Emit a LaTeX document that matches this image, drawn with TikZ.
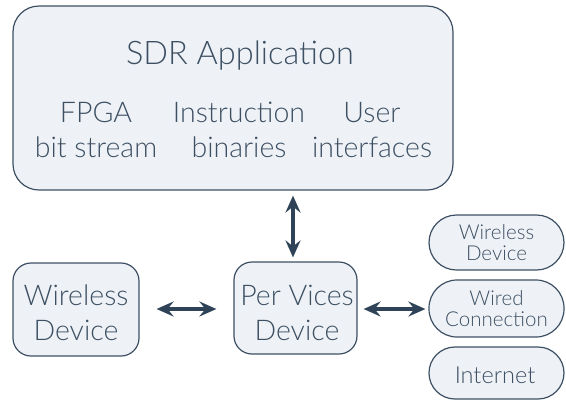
\documentclass[tikz,border=0pt]{standalone}
\usepackage{fontspec}
\setmainfont{Lato}[UprightFont={* Light}]
\usetikzlibrary{arrows.meta,calc}
\definecolor{boxfill}{HTML}{EEF2F6}
\definecolor{boxline}{HTML}{3D4F63}
\definecolor{txt}{HTML}{3D4F63}
\definecolor{arrcol}{HTML}{2E4357}
\begin{document}
\begin{tikzpicture}[x=1pt,y=-1pt,
  box/.style={draw=boxline,fill=boxfill,line width=1.2pt,inner sep=0pt},
  lbl/.style={text=txt,align=center,inner sep=0pt},
  big/.style={lbl,font=\fontsize{28.5}{35}\selectfont},
  small/.style={lbl,font=\fontsize{20.5}{21}\selectfont},
  arr/.style={draw=arrcol,line width=3.2pt,{Stealth[length=17pt,width=15pt,inset=6pt]}-{Stealth[length=17pt,width=15pt,inset=6pt]}}]
\useasboundingbox (0,0) rectangle (566,400);
% boxes
\node[box,rounded corners=26pt,minimum width=440pt,minimum height=184pt] (sdr) at (233,98) {};
\node[box,rounded corners=18pt,minimum width=126pt,minimum height=93pt] (wd) at (76,309.5) {};
\node[box,rounded corners=18pt,minimum width=123pt,minimum height=92pt] (pv) at (295.5,308) {};
\node[box,rounded corners=27.5pt,minimum width=135pt,minimum height=55pt] (o1) at (496.5,242.5) {};
\node[box,rounded corners=28pt,minimum width=135pt,minimum height=57pt] (o2) at (496.5,308.5) {};
\node[box,rounded corners=26pt,minimum width=135pt,minimum height=52pt] (o3) at (496.5,373) {};
% texts
\node[lbl,font=\fontsize{32.5}{36}\selectfont,anchor=base] (title) at (240,64) {SDR Application};
\node[big] (fpga) at (96,130) {FPGA\\bit stream};
\node[big] (instr) at (239,130) {Instruction\\binaries};
\node[big] (user) at (372,130) {User\\interfaces};
\node[big] (wdt) at (76,312.5) {Wireless\\Device};
\node[big] (pvt) at (297,312.5) {Per Vices\\Device};
\node[small] (o1t) at (496.5,243) {Wireless\\Device};
\node[small] (o2t) at (496.5,309) {Wired\\Connection};
\node[lbl,font=\fontsize{23.5}{24}\selectfont,anchor=base] (o3t) at (495,383) {Internet};
% connectors
\coordinate (vx) at (293,0);
\coordinate (hy) at (0,309);
\draw[arr,shorten <=5pt,shorten >=4pt] (sdr.south -| vx) -- (pv.north -| vx);
\draw[arr,shorten <=17pt,shorten >=17pt] (wd.east |- hy) -- (pv.west |- hy);
\draw[arr,shorten <=6pt,shorten >=3pt] (pv.east |- hy) -- (o2.west |- hy);
\end{tikzpicture}
\end{document}
